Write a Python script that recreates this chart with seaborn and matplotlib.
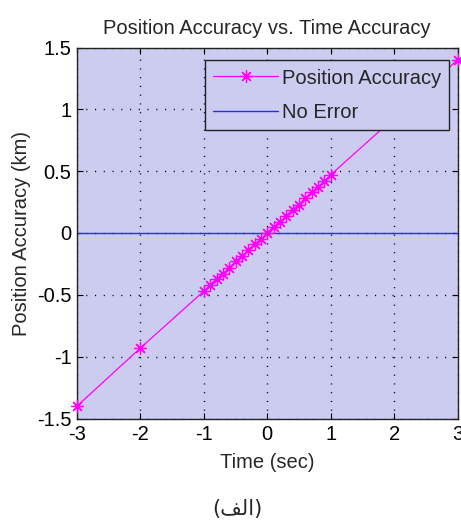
import numpy as np
import pandas as pd
import matplotlib
matplotlib.use("Agg")
import matplotlib.pyplot as plt
import seaborn as sns

# Data
time_sec = [-3, -2, -1.0, -0.9, -0.8, -0.7, -0.6, -0.5, -0.4, -0.3, -0.2, -0.1,
            0.0, 0.1, 0.2, 0.3, 0.4, 0.5, 0.6, 0.7, 0.8, 0.9, 1.0, 2, 3]
position_km = [-1.40, -0.93, -0.47, -0.42, -0.37, -0.33, -0.28, -0.23, -0.19, -0.14, -0.09, -0.05,
               0.0, 0.05, 0.09, 0.14, 0.19, 0.23, 0.28, 0.33, 0.37, 0.42, 0.47, 0.93, 1.40]
no_error_x = [-3, 3]
no_error_y = [0, 0]
x_ticks = [-3, -2, -1, 0, 1, 2, 3]
y_ticks = [-1.5, -1, -0.5, 0, 0.5, 1, 1.5]
y_tick_labels = ["-1.5", "-1", "-0.5", "0", "0.5", "1", "1.5"]
title = "Position Accuracy vs. Time Accuracy"
x_label = "Time (sec)"
y_label = "Position Accuracy (km)"
series_names = ["Position Accuracy", "No Error"]
# Arabic caption "(الف)" in contextual presentation forms (visual order)
caption = "(\uFED2\uFEDF\uFE8D)"

sns.set_style("ticks")
plt.rcParams["font.family"] = ["Liberation Sans", "DejaVu Sans"]
fs = 14.5

bg = "#ccccf0"
fig = plt.figure(figsize=(4.61, 5.2), dpi=100)
ax = fig.add_axes([77 / 461, 1 - 418.5 / 520, (457.5 - 77) / 461, (418.5 - 47.5) / 520])
ax.set_facecolor(bg)

df_pos = pd.DataFrame({"t": time_sec, "p": position_km})
df_zero = pd.DataFrame({"t": no_error_x, "p": no_error_y})

sns.lineplot(data=df_pos, x="t", y="p", ax=ax, color="#ff00ff", linewidth=0.9,
             marker=(8, 2, 0), markersize=9, markeredgewidth=0.9,
             markeredgecolor="#ff00ff", label=series_names[0], clip_on=False, zorder=3)
sns.lineplot(data=df_zero, x="t", y="p", ax=ax, color="#2a2aff", linewidth=1.0,
             label=series_names[1], zorder=2)

ax.set_xlim(-3, 3)
ax.set_ylim(-1.5, 1.5)
ax.set_xticks(x_ticks)
ax.set_xticklabels([str(v) for v in x_ticks])
ax.set_yticks(y_ticks)
ax.set_yticklabels(y_tick_labels)
ax.grid(True, color="black", linestyle=(0, (0.8, 5.5)), linewidth=1.0)
ax.set_axisbelow(True)
ax.tick_params(direction="in", length=4, width=0.8, top=True, right=True,
               labelsize=fs, colors="black")
ax.tick_params(axis="x", pad=5)
ax.tick_params(axis="y", pad=4)
for s in ax.spines.values():
    s.set_visible(True)
    s.set_color("#222222")
    s.set_linewidth(1.0)

ax.set_title(title, fontsize=fs, pad=10)
ax.set_xlabel(x_label, fontsize=fs, labelpad=6)
ax.set_ylabel(y_label, fontsize=fs, labelpad=4)

leg = ax.legend(loc="upper right", bbox_to_anchor=(0.978, 0.965), borderaxespad=0,
                fancybox=False, framealpha=1, facecolor=bg, edgecolor="#222222",
                fontsize=fs, handlelength=3.2, labelspacing=0.75, borderpad=0.4,
                handletextpad=0.2)
leg.get_frame().set_linewidth(1.0)
leg.set_zorder(5)

fig.text(237 / 461, 1 - 509 / 520, caption, ha="center", va="center",
         fontsize=15, family=["DejaVu Sans"])

fig.savefig("out.png", dpi=100, facecolor="white")
